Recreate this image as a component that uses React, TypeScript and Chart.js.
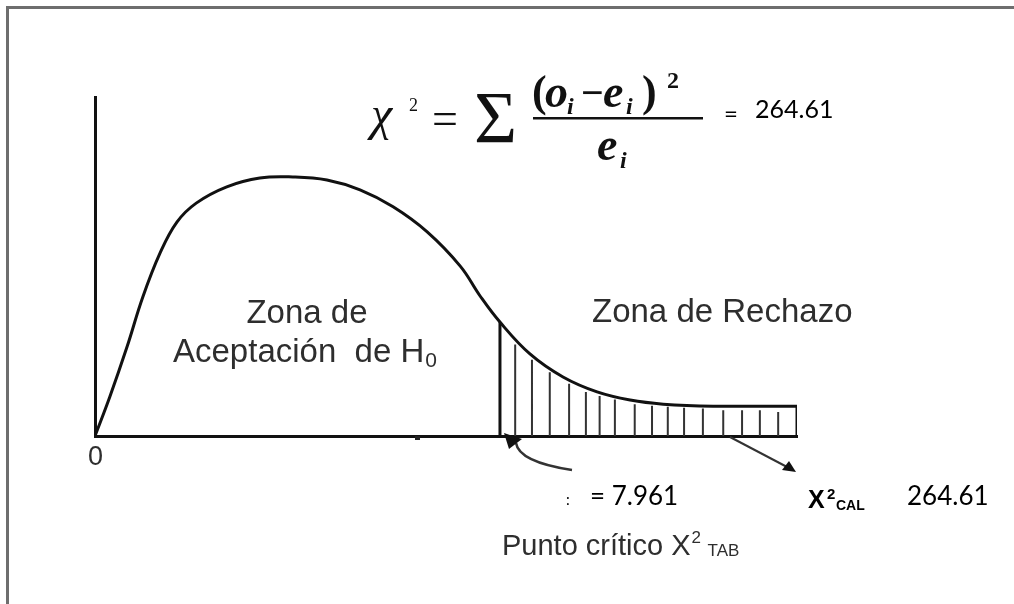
import React, { useEffect, useRef } from "react";
import { Chart, registerables } from "chart.js";

Chart.register(...registerables);

// Chi-square density sketch (x in chi-square units, y relative height 0..100)
const curveX = [0, 0.29, 0.63, 0.94, 1.28, 1.61, 1.99, 2.59, 3.24, 3.89, 4.56, 5.21, 5.86, 6.53, 7.18, 7.57, 7.96, 8.55, 9.2, 9.87, 10.52, 11.17, 12.15, 13.8];
const curveY = [0, 11.5, 26.3, 41.0, 54.0, 63.1, 68.7, 73.5, 76.1, 76.4, 75.5, 72.6, 67.6, 60.2, 50.1, 41.3, 33.6, 24.2, 17.4, 13.0, 10.6, 9.4, 8.8, 8.8];

const criticalValue = 7.961;
const criticalTop = 33.6;
const chiCal = 264.61;
const xMax = 13.8;
const edgeTop = 8.8;

const hatchX = [8.26, 8.59, 8.94, 9.32, 9.65, 9.92, 10.22, 10.61, 10.95, 11.26, 11.58, 11.95, 12.35, 12.72, 13.07, 13.43];
const hatchTop = [27.0, 22.5, 18.8, 15.4, 13.0, 11.8, 10.8, 9.4, 8.9, 8.6, 8.3, 8.1, 7.6, 7.6, 7.6, 7.1];

const labelAccept1 = "Zona de";
const labelAccept2 = "Aceptación  de H";
const labelReject = "Zona de Rechazo";
const labelCritical = "Punto crítico X";

const SERIF = "'Liberation Serif', 'DejaVu Serif', serif";
const SANS = "'Liberation Sans', Arial, sans-serif";
const NUM = "Lato, 'Open Sans', sans-serif";

function drawRuns(ctx: CanvasRenderingContext2D, x: number, y: number, runs: { t: string; f: string; dy?: number; dx?: number }[]) {
  let cx = x;
  for (const r of runs) {
    ctx.font = r.f;
    cx += r.dx || 0;
    ctx.fillText(r.t, cx, y + (r.dy || 0));
    cx += ctx.measureText(r.t).width;
  }
  return cx;
}

function put(ctx: CanvasRenderingContext2D, t: string, f: string, x: number, y: number) {
  ctx.font = f;
  ctx.fillText(t, x, y);
}

const annotate = {
  id: "annotate",
  afterDraw(chart: any) {
    const ctx: CanvasRenderingContext2D = chart.ctx;
    const xs = chart.scales.x;
    const ys = chart.scales.y;
    ctx.save();
    // frame (top and left)
    ctx.fillStyle = "#6e6e6e";
    ctx.fillRect(6, 6, 1014, 3);
    ctx.fillRect(6, 6, 3, 604);

    ctx.textBaseline = "alphabetic";
    ctx.textAlign = "left";

    // formula
    ctx.fillStyle = "#111";
    put(ctx, "χ", `italic 48px ${SERIF}`, 371, 130);
    put(ctx, "2", `18px ${SERIF}`, 409, 111);
    put(ctx, "=", `46px ${SERIF}`, 432, 134);
    put(ctx, "Σ", `74px ${SERIF}`, 474, 143);
    const BI = `bold italic 46px ${SERIF}`;
    const B = `bold 44px ${SERIF}`;
    const SUB = `bold italic 24px ${SERIF}`;
    put(ctx, "(", B, 532, 106);
    put(ctx, "o", BI, 545, 107);
    put(ctx, "i", SUB, 567, 114);
    put(ctx, "−", `bold 40px ${SERIF}`, 581, 106);
    put(ctx, "e", BI, 603, 107);
    put(ctx, "i", SUB, 626, 114);
    put(ctx, ")", B, 642, 106);
    put(ctx, "2", `bold 24px ${SERIF}`, 667, 88);
    ctx.fillRect(533, 117, 170, 2.5);
    put(ctx, "e", BI, 597, 160);
    put(ctx, "i", SUB, 620, 168);

    ctx.fillStyle = "#000";
    put(ctx, "=", `24px ${NUM}`, 724, 122);
    put(ctx, String(chiCal), `25px ${NUM}`, 755, 118);

    // zone labels
    ctx.fillStyle = "#2e2e2e";
    ctx.font = `33px ${SANS}`;
    ctx.textAlign = "center";
    ctx.fillText(labelAccept1, 307, 323);
    ctx.textAlign = "left";
    const endH = drawRuns(ctx, 173, 362, [{ t: labelAccept2, f: `33px ${SANS}` }]);
    put(ctx, "0", `21px ${SANS}`, endH + 1, 367);
    put(ctx, labelReject, `33px ${SANS}`, 592, 322);

    // origin label
    put(ctx, "0", `27px ${SANS}`, 88, 465);

    // small tick on axis
    ctx.fillStyle = "#222";
    ctx.fillRect(415, 436, 5, 4);

    // arrows
    const cx = xs.getPixelForValue(criticalValue);
    const base = ys.getPixelForValue(0);
    ctx.strokeStyle = "#333";
    ctx.lineWidth = 2.5;
    ctx.beginPath();
    ctx.moveTo(572, 470);
    ctx.quadraticCurveTo(519, 462, 516, 443);
    ctx.stroke();
    ctx.fillStyle = "#111";
    ctx.beginPath();
    ctx.moveTo(cx + 4, base - 3);
    ctx.lineTo(cx + 22, base + 3);
    ctx.lineTo(cx + 9, base + 13);
    ctx.closePath();
    ctx.fill();

    const ex = xs.getPixelForValue(xMax);
    ctx.lineWidth = 2;
    ctx.beginPath();
    ctx.moveTo(730, base + 1);
    ctx.lineTo(789, base + 32);
    ctx.stroke();
    ctx.beginPath();
    ctx.moveTo(ex - 1, base + 36);
    ctx.lineTo(ex - 15, base + 34);
    ctx.lineTo(ex - 8, base + 25);
    ctx.closePath();
    ctx.fill();

    // bottom values
    ctx.fillStyle = "#000";
    put(ctx, ":", `15px ${NUM}`, 566, 505);
    put(ctx, "= " + criticalValue.toFixed(3), `26px ${NUM}`, 590, 505);
    put(ctx, String(chiCal), `26px ${NUM}`, 907, 505);
    put(ctx, "X", `bold 25px ${SANS}`, 808, 508);
    put(ctx, "2", `bold 15px ${SANS}`, 827, 499);
    put(ctx, "CAL", `bold 14px ${SANS}`, 836, 510);

    ctx.fillStyle = "#2e2e2e";
    const endX = drawRuns(ctx, 502, 555, [{ t: labelCritical, f: `29px ${SANS}` }]);
    put(ctx, "2", `17px ${SANS}`, endX + 1, 543);
    put(ctx, "TAB", `17px ${SANS}`, endX + 17, 556);
    ctx.restore();
  },
};

export default function App() {
  const ref = useRef<HTMLCanvasElement | null>(null);
  useEffect(() => {
    if (!ref.current) return;
    const hatchData: { x: number; y: number | null }[] = [];
    hatchX.forEach((x, i) => {
      hatchData.push({ x, y: 0 }, { x, y: hatchTop[i] }, { x, y: null });
    });
    const chart = new Chart(ref.current, {
      type: "scatter",
      data: {
        datasets: [
          {
            data: curveX.map((x, i) => ({ x, y: curveY[i] })),
            showLine: true,
            borderColor: "#111",
            borderWidth: 3,
            pointRadius: 0,
            tension: 0.4,
          },
          {
            data: [{ x: xMax, y: edgeTop }, { x: xMax, y: 0 }],
            showLine: true,
            borderColor: "#111",
            borderWidth: 3,
            pointRadius: 0,
          },
          {
            data: [{ x: criticalValue, y: 0 }, { x: criticalValue, y: criticalTop }],
            showLine: true,
            borderColor: "#111",
            borderWidth: 3,
            pointRadius: 0,
          },
          {
            data: hatchData as any,
            showLine: true,
            spanGaps: false,
            borderColor: "#333",
            borderWidth: 2,
            pointRadius: 0,
          },
        ],
      },
      options: {
        animation: false,
        responsive: false,
        devicePixelRatio: 1,
        events: [],
        layout: { padding: { left: 95, right: 217, top: 97, bottom: 168 } },
        plugins: { legend: { display: false }, tooltip: { enabled: false }, title: { display: false } },
        scales: {
          x: {
            type: "linear",
            min: 0,
            max: xMax,
            grid: { display: false },
            ticks: { display: false },
            border: { display: true, color: "#111", width: 3 },
            afterFit: (s: any) => { s.height = 0; },
          },
          y: {
            type: "linear",
            min: 0,
            max: 100,
            grid: { display: false },
            ticks: { display: false },
            border: { display: true, color: "#111", width: 3 },
            afterFit: (s: any) => { s.width = 0; },
          },
        },
      },
      plugins: [annotate],
    });
    return () => chart.destroy();
  }, []);
  return (
    <div style={{ position: "absolute", left: 0, top: 0, width: 1014, height: 604, background: "#fff" }}>
      <canvas ref={ref} width={1014} height={604} style={{ display: "block" }} />
    </div>
  );
}
